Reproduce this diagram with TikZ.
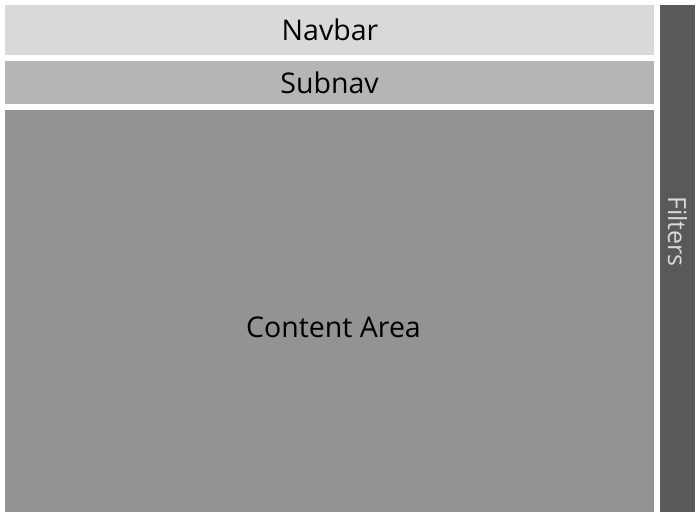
\documentclass[tikz,border=0pt]{standalone}
\usepackage{fontspec}
\setmainfont{Open Sans}
\definecolor{navc}{HTML}{D9D9D9}
\definecolor{subc}{HTML}{B5B5B5}
\definecolor{contc}{HTML}{939393}
\definecolor{filc}{HTML}{595959}
\definecolor{filtxt}{HTML}{D9D9D9}
\begin{document}
\begin{tikzpicture}[x=1pt,y=-1pt,
  panel/.style={inner sep=0pt,outer sep=0pt,font=\fontsize{28.5}{34}\selectfont}]
\useasboundingbox[fill=white] (0,0) rectangle (700,518);
\fill[navc] (5,5) rectangle (654,55);
\node[panel] (nav) at (330,30) {Navbar};
\fill[subc] (5,61) rectangle (654,104);
\node[panel] (sub) at (329.5,82.5) {Subnav};
\fill[contc] (5,110) rectangle (654,512);
\node[panel] (cont) at (333.5,327) {Content Area};
\fill[filc] (660,5) rectangle (695,512);
\node[panel,font=\fontsize{25}{30}\selectfont,text=filtxt,rotate=-90] (fil) at (677.5,231.5) {Filters};
\end{tikzpicture}
\end{document}
